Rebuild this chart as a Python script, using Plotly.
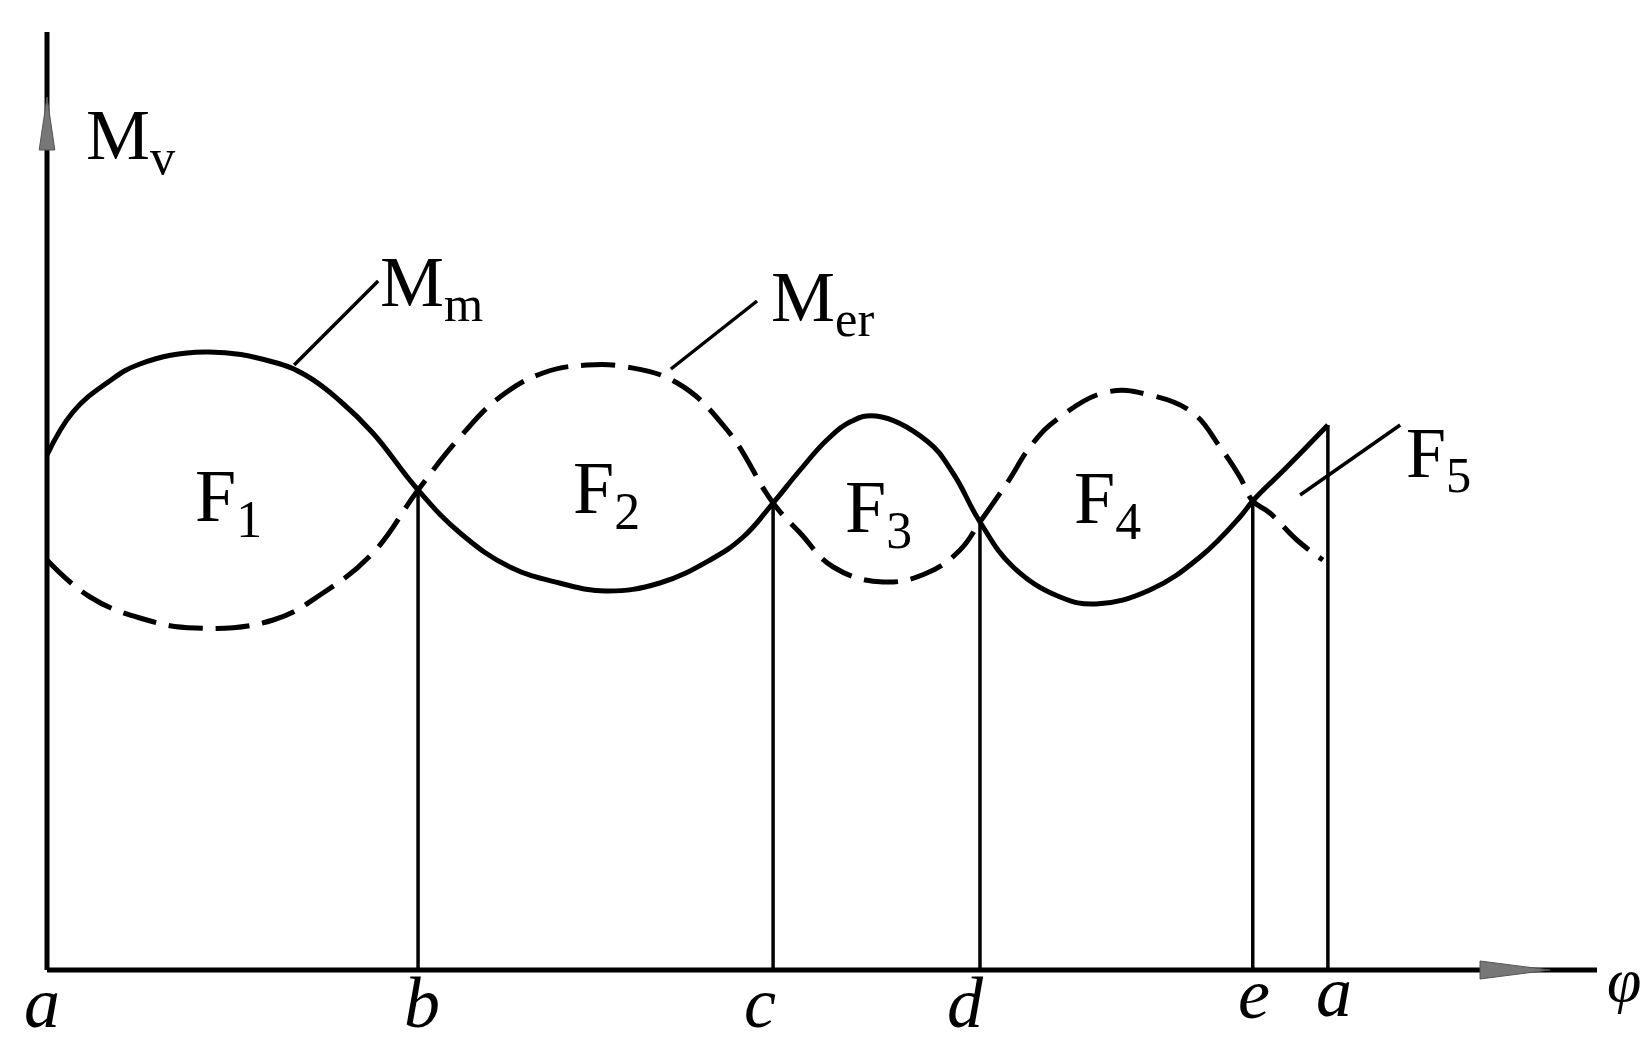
import plotly.graph_objects as go

# --- data (phi in degrees over one cycle a -> a, moment in arbitrary units) ---
point_names = ["a", "b", "c", "d", "e", "a"]
point_phi = [0, 104.2, 203.9, 262.0, 338.6, 359.7]
point_M = [None, 48.0, 46.7, 44.8, 46.9, 54.5]   # curve value at each marked point

# driving moment (solid)
drive_phi = [0, 7.3, 16.8, 26.1, 44.4, 63.5, 73.0, 82.3, 91.5, 104.2, 116.0, 130.0, 143.9,
             157.0, 172.1, 186.2, 195.5, 203.9, 211.5, 219.0, 225.5, 232.8, 247.1, 254.4, 262.0,
             271.3, 284.5, 294.6, 309.7, 323.8, 335.0, 338.6, 348.2, 359.7]
drive_M = [51.5, 55.8, 58.7, 60.6, 61.8, 60.8, 59.4, 56.9, 53.7, 48.0, 43.7, 40.3, 38.7,
           37.9, 38.7, 41.0, 43.3, 46.7, 50.0, 53.0, 54.8, 55.4, 52.9, 49.7, 44.8,
           40.3, 37.3, 36.6, 38.0, 41.3, 45.3, 46.9, 50.3, 54.5]

# resisting moment (dashed)
resist_phi = [0, 12.1, 26.1, 41.6, 63.5, 77.5, 91.5, 104.2, 116.0, 127.2, 139.3, 151.6,
              162.9, 177.0, 191.0, 203.9, 211.5, 220.8, 234.8, 247.1, 256.4, 262.0, 269.6,
              276.9, 284.5, 297.7, 309.7, 321.8, 329.4, 335.0, 338.6, 343.4, 351.0, 358.3]
resist_M = [41.0, 37.3, 35.2, 34.2, 35.0, 37.7, 41.7, 48.0, 53.3, 57.3, 59.7, 60.5,
            60.3, 58.7, 54.0, 46.7, 43.7, 40.3, 38.8, 39.7, 42.0, 44.8, 48.7,
            52.7, 55.3, 57.8, 57.5, 55.7, 52.3, 49.3, 46.9, 45.7, 43.0, 41.0]

area_labels = ["F<sub>1</sub>", "F<sub>2</sub>", "F<sub>3</sub>", "F<sub>4</sub>"]
area_phi = [51.1, 157.0, 233.6, 297.7]
area_M = [46.9, 47.7, 45.8, 46.7]

# pixel mapping helpers (layout only)
PX_X = 3.561
PX_Y = 10.0
X0 = 47
Y0 = 970
W, H = 1645, 1047

fig = go.Figure()

# curves
fig.add_trace(go.Scatter(x=drive_phi, y=drive_M, mode="lines",
                         line=dict(color="black", width=5, shape="spline", smoothing=1.2),
                         hoverinfo="skip", showlegend=False))
fig.add_trace(go.Scatter(x=resist_phi, y=resist_M, mode="lines",
                         line=dict(color="black", width=5, shape="spline", smoothing=1.2,
                                   dash="34px,13px"),
                         hoverinfo="skip", showlegend=False))

# verticals at marked points
vx, vy = [], []
for p, m in zip(point_phi[1:], point_M[1:]):
    vx += [p, p, None]
    vy += [0, m, None]
fig.add_trace(go.Scatter(x=vx, y=vy, mode="lines", line=dict(color="black", width=3.5),
                         hoverinfo="skip", showlegend=False))

serif = "Liberation Serif"

# axes
x_end = (1597 - X0) / PX_X
y_end = (Y0 - 32) / PX_Y
fig.add_shape(type="line", x0=0, y0=0, x1=x_end, y1=0, line=dict(color="black", width=5))
fig.add_shape(type="line", x0=0, y0=0, x1=0, y1=y_end, line=dict(color="black", width=5))
# arrowheads (grey filled)
tipx = (1550 - X0) / PX_X
basex = (1480 - X0) / PX_X
fig.add_shape(type="path",
              path=f"M {basex},{-0.9} L {tipx},0 L {basex},{0.9} Z",
              fillcolor="#777", line=dict(color="#555", width=1))
tipy = (Y0 - 97) / PX_Y
basey = (Y0 - 150) / PX_Y
fig.add_shape(type="path",
              path=f"M {-2.2},{basey} L 0,{tipy} L {2.2},{basey} Z",
              fillcolor="#777", line=dict(color="#555", width=1))

# leader lines
leaders = [((69.4, 60.5), (93.0, 68.9)),
           ((175.2, 60.1), (199.4, 66.9)),
           ((351.9, 47.5), (380.0, 54.5))]
for (x0, y0), (x1, y1) in leaders:
    fig.add_shape(type="line", x0=x0, y0=y0, x1=x1, y1=y1, line=dict(color="black", width=3.5))

# text labels
def label(text, x, y, size, italic=False, xanchor="center", yanchor="middle"):
    fig.add_annotation(x=x, y=y, text=(f"<i>{text}</i>" if italic else text), showarrow=False,
                       font=dict(family=serif, size=size, color="black"), xanchor=xanchor,
                       yanchor=yanchor)

for t, x, y in zip(area_labels, area_phi, area_M):
    label(t, x, y, 74)

label("M<sub>v</sub>", 23.5, 83.0, 72)
label("M<sub>m</sub>", 93.0, 68.3, 72, xanchor="left")
label("M<sub>er</sub>", 202.8, 66.8, 72, xanchor="left")
label("F<sub>5</sub>", 381.0, 51.2, 72, xanchor="left")

# letters under the axis: bottom of the text box near the lower edge
letter_pos = [(-1.4, -7.5), (105.3, -7.5), (200.2, -7.5), (257.8, -7.5), (339.0, -6.6), (361.4, -6.4)]
for name, (x, y) in zip(point_names, letter_pos):
    label(name, x, y, 72, italic=True, yanchor="bottom")
label("φ", 448.2, -1.0, 62, italic=True, xanchor="right")

fig.update_layout(
    width=W, height=H,
    margin=dict(l=0, r=0, t=0, b=0),
    font=dict(family=serif, size=72, color="black"),
    paper_bgcolor="white", plot_bgcolor="white",
    xaxis=dict(range=[-X0 / PX_X, (W - X0) / PX_X], visible=False, fixedrange=True),
    yaxis=dict(range=[-(H - Y0) / PX_Y, Y0 / PX_Y], visible=False, fixedrange=True),
    showlegend=False,
)

fig.write_html("out.html", config={"displayModeBar": False},
               post_script="document.body.style.margin='0';document.body.style.overflow='hidden';")
